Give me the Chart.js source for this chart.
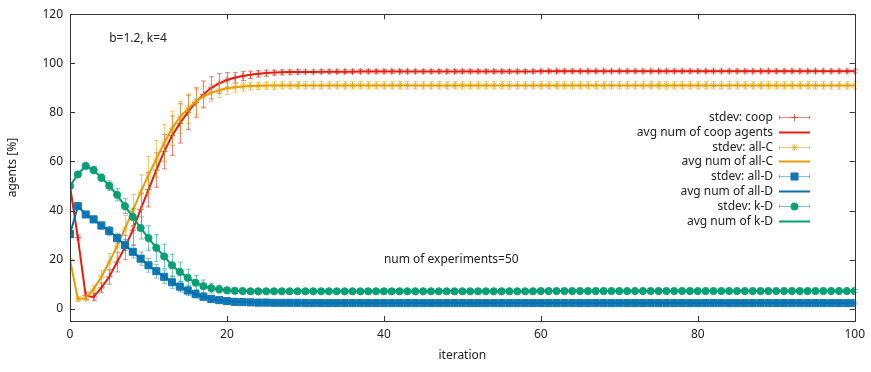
<!DOCTYPE html>
<html>
<head>
<meta charset="utf-8">
<script src="https://cdn.jsdelivr.net/npm/chart.js@4.4.0/dist/chart.umd.min.js"></script>
<style>
  html, body { margin: 0; padding: 0; background: #fff; }
  #wrap { width: 871px; height: 372px; position: relative; }
</style>
</head>
<body>
<div id="wrap"><canvas id="agents_chart"></canvas></div>
<script>
// iteration numbers on the x axis
const iterations = Array.from({ length: 101 }, (_, i) => i);
const xTicks = [0, 20, 40, 60, 80, 100];
const yTicks = [0, 20, 40, 60, 80, 100, 120];

// average number of agents [%]
const coopAvg = [
  50, 29, 5.3, 4.8, 8.5, 13, 19, 25, 32, 40.5,
  48.5, 56.5, 64, 70.5, 75.5, 80, 84, 87.3, 90, 91.8,
  93.2, 94.1, 94.8, 95.3, 95.7, 96, 96.2, 96.3, 96.4, 96.5,
  96.5, 96.5, 96.6, 96.6, 96.6, 96.6, 96.6, 96.7, 96.7, 96.7,
  96.7, 96.7, 96.7, 96.7, 96.7, 96.7, 96.7, 96.7, 96.7, 96.7,
  96.7, 96.7, 96.7, 96.7, 96.7, 96.7, 96.7, 96.7, 96.7, 96.7,
  96.8, 96.8, 96.8, 96.8, 96.8, 96.8, 96.8, 96.8, 96.8, 96.8,
  96.8, 96.8, 96.8, 96.8, 96.8, 96.8, 96.8, 96.8, 96.8, 96.8,
  96.8, 96.8, 96.8, 96.8, 96.8, 96.8, 96.8, 96.8, 96.8, 96.8,
  96.8, 96.8, 96.8, 96.8, 96.8, 96.8, 96.8, 96.8, 96.8, 96.8,
  96.8
];
const allCAvg = [
  20, 4, 4.3, 8, 13, 19, 25.5, 32.5, 40, 47.5,
  54.5, 61, 67.5, 73.5, 78, 81.5, 84.3, 86.5, 88, 89,
  89.8, 90.2, 90.5, 90.7, 90.8, 90.9, 90.9, 91, 91, 91,
  91, 91, 91, 91, 91, 91, 91, 91, 91, 91,
  91, 91, 91, 91, 91, 91, 91, 91, 91, 91,
  91, 91, 91, 91, 91, 91, 91, 91, 91, 91,
  91, 91, 91, 91, 91, 91, 91, 91, 91, 91,
  91, 91, 91, 91, 91, 91, 91, 91, 91, 91,
  91, 91, 91, 91, 91, 91, 91, 91, 91, 91,
  91, 91, 91, 91, 91, 91, 91, 91, 91, 91,
  91
];
const allDAvg = [
  30.4, 41.8, 38.4, 36.4, 33.9, 31.7, 28.8, 26, 23.2, 20.4,
  17.7, 15.3, 13, 10.8, 9, 7.4, 6, 4.9, 4, 3.5,
  3.1, 2.8, 2.7, 2.6, 2.5, 2.5, 2.4, 2.4, 2.4, 2.4,
  2.3, 2.3, 2.3, 2.3, 2.3, 2.3, 2.3, 2.3, 2.3, 2.3,
  2.3, 2.3, 2.3, 2.3, 2.3, 2.3, 2.3, 2.3, 2.3, 2.3,
  2.3, 2.3, 2.3, 2.3, 2.3, 2.3, 2.3, 2.3, 2.3, 2.3,
  2.3, 2.3, 2.3, 2.3, 2.3, 2.3, 2.3, 2.3, 2.3, 2.3,
  2.3, 2.3, 2.3, 2.3, 2.3, 2.3, 2.3, 2.3, 2.3, 2.3,
  2.3, 2.3, 2.3, 2.3, 2.3, 2.3, 2.3, 2.3, 2.3, 2.3,
  2.3, 2.3, 2.3, 2.3, 2.3, 2.3, 2.3, 2.3, 2.3, 2.3,
  2.3
];
const kDAvg = [
  50, 54.7, 58.2, 56.5, 53.4, 50.1, 46.4, 41.8, 37.4, 32.9,
  28.8, 24.8, 21.3, 17.7, 15, 12.6, 10.6, 9.2, 8.4, 7.9,
  7.5, 7.3, 7.2, 7.1, 7.1, 7.1, 7.1, 7.1, 7.1, 7.1,
  7.1, 7.1, 7.1, 7.1, 7.1, 7.1, 7.1, 7.1, 7.1, 7.1,
  7.1, 7.1, 7.1, 7.1, 7.1, 7.1, 7.1, 7.1, 7.1, 7.1,
  7.1, 7.1, 7.1, 7.1, 7.1, 7.1, 7.1, 7.1, 7.1, 7.1,
  7.2, 7.2, 7.2, 7.2, 7.2, 7.2, 7.2, 7.2, 7.2, 7.2,
  7.2, 7.2, 7.2, 7.2, 7.2, 7.2, 7.2, 7.2, 7.2, 7.2,
  7.2, 7.2, 7.2, 7.2, 7.2, 7.2, 7.2, 7.2, 7.2, 7.2,
  7.2, 7.2, 7.2, 7.2, 7.2, 7.2, 7.2, 7.2, 7.2, 7.2,
  7.2
];

// standard deviation over the experiments
const coopStdev = [
  0, 1, 1.5, 1.5, 2, 3, 4, 5, 6, 6.5,
  7, 7, 7, 8, 8, 7, 6, 5.5, 4.5, 4,
  3, 2.2, 1.8, 1.5, 1.3, 1.2, 1, 1, 0.9, 0.9,
  0.8, 0.8, 0.8, 0.8, 0.8, 0.8, 0.8, 0.8, 0.8, 0.8,
  0.8, 0.8, 0.8, 0.8, 0.8, 0.8, 0.8, 0.8, 0.8, 0.8,
  0.8, 0.8, 0.8, 0.8, 0.8, 0.8, 0.8, 0.8, 0.8, 0.8,
  0.8, 0.8, 0.8, 0.8, 0.8, 0.8, 0.8, 0.8, 0.8, 0.8,
  0.8, 0.8, 0.8, 0.8, 0.8, 0.8, 0.8, 0.8, 0.8, 0.8,
  0.8, 0.8, 0.8, 0.8, 0.8, 0.8, 0.8, 0.8, 0.8, 0.8,
  0.8, 0.8, 0.8, 0.8, 0.8, 0.8, 0.8, 0.8, 0.8, 0.8,
  0.8
];
const allCStdev = [
  0, 1, 1, 1.5, 2.5, 3.5, 4.5, 5.5, 6.5, 7,
  7.5, 7.5, 7.5, 7, 6.5, 6, 5, 4.2, 3.5, 3,
  2.5, 2, 1.8, 1.6, 1.5, 1.5, 1.5, 1.5, 1.5, 1.5,
  1.5, 1.5, 1.5, 1.5, 1.5, 1.5, 1.5, 1.5, 1.5, 1.5,
  1.5, 1.5, 1.5, 1.5, 1.5, 1.5, 1.5, 1.5, 1.5, 1.5,
  1.5, 1.5, 1.5, 1.5, 1.5, 1.5, 1.5, 1.5, 1.5, 1.5,
  1.5, 1.5, 1.5, 1.5, 1.5, 1.5, 1.5, 1.5, 1.5, 1.5,
  1.5, 1.5, 1.5, 1.5, 1.5, 1.5, 1.5, 1.5, 1.5, 1.5,
  1.5, 1.5, 1.5, 1.5, 1.5, 1.5, 1.5, 1.5, 1.5, 1.5,
  1.5, 1.5, 1.5, 1.5, 1.5, 1.5, 1.5, 1.5, 1.5, 1.5,
  1.5
];
const allDStdev = [
  0, 1, 1, 1.2, 1.5, 1.8, 2, 2.2, 2.5, 2.7,
  2.8, 2.8, 2.7, 2.5, 2.2, 2, 1.7, 1.4, 1.1, 0.9,
  0.7, 0.6, 0.5, 0.5, 0.5, 0.5, 0.5, 0.5, 0.5, 0.5,
  0.4, 0.4, 0.4, 0.4, 0.4, 0.4, 0.4, 0.4, 0.4, 0.4,
  0.4, 0.4, 0.4, 0.4, 0.4, 0.4, 0.4, 0.4, 0.4, 0.4,
  0.4, 0.4, 0.4, 0.4, 0.4, 0.4, 0.4, 0.4, 0.4, 0.4,
  0.4, 0.4, 0.4, 0.4, 0.4, 0.4, 0.4, 0.4, 0.4, 0.4,
  0.4, 0.4, 0.4, 0.4, 0.4, 0.4, 0.4, 0.4, 0.4, 0.4,
  0.4, 0.4, 0.4, 0.4, 0.4, 0.4, 0.4, 0.4, 0.4, 0.4,
  0.4, 0.4, 0.4, 0.4, 0.4, 0.4, 0.4, 0.4, 0.4, 0.4,
  0.4
];
const kDStdev = [
  0, 1, 1, 1.5, 1.5, 2, 2.5, 3, 3.5, 4.5,
  5, 5.5, 5, 4.5, 4, 3.5, 3, 2.5, 2, 1.5,
  1.2, 1, 0.8, 0.8, 0.7, 0.7, 0.7, 0.6, 0.6, 0.6,
  0.6, 0.6, 0.6, 0.6, 0.6, 0.6, 0.6, 0.6, 0.6, 0.6,
  0.6, 0.6, 0.6, 0.6, 0.6, 0.6, 0.6, 0.6, 0.6, 0.6,
  0.6, 0.6, 0.6, 0.6, 0.6, 0.6, 0.6, 0.6, 0.6, 0.6,
  0.6, 0.6, 0.6, 0.6, 0.6, 0.6, 0.6, 0.6, 0.6, 0.6,
  0.6, 0.6, 0.6, 0.6, 0.6, 0.6, 0.6, 0.6, 0.6, 0.6,
  0.6, 0.6, 0.6, 0.6, 0.6, 0.6, 0.6, 0.6, 0.6, 0.6,
  0.6, 0.6, 0.6, 0.6, 0.6, 0.6, 0.6, 0.6, 0.6, 0.6,
  0.6
];

const FONT = { family: '"Noto Sans", "DejaVu Sans", sans-serif', size: 12 };
const TEXT = '#222';

function stdevSet(label, avg, sd, line, bar, marker, style, radius) {
  return {
    label: label, data: avg, stdev: sd, barColor: bar,
    borderColor: line, borderWidth: 1, showLine: true,
    pointStyle: style, pointRadius: radius, pointBorderWidth: 1,
    pointBackgroundColor: marker, pointBorderColor: marker
  };
}
function avgSet(label, avg, color) {
  return { label: label, data: avg, borderColor: color, borderWidth: 2, pointRadius: 0 };
}

const datasets = [
  stdevSet('stdev: coop', coopAvg, coopStdev, 'rgba(229,30,16,0.45)', 'rgba(229,30,16,0.55)', 'rgba(229,30,16,0.7)', 'cross', 3.5),
  avgSet('avg num of coop agents', coopAvg, '#e51e10'),
  stdevSet('stdev: all-C', allCAvg, allCStdev, 'rgba(230,159,0,0.45)', 'rgba(230,159,0,0.55)', 'rgba(230,159,0,0.6)', 'star', 3.5),
  avgSet('avg num of all-C', allCAvg, '#e69f00'),
  stdevSet('stdev: all-D', allDAvg, allDStdev, 'rgba(0,114,178,0.4)', 'rgba(0,114,178,0.45)', '#1278b6', 'rect', 5),
  avgSet('avg num of all-D', allDAvg, '#0072b2'),
  stdevSet('stdev: k-D', kDAvg, kDStdev, 'rgba(0,158,115,0.45)', 'rgba(0,158,115,0.55)', '#0aa178', 'circle', 3.6),
  avgSet('avg num of k-D', kDAvg, '#009e73')
];
// later series lie on top, like in the original plot
datasets.forEach((d, i) => { d.order = datasets.length - i; });

const errorBars = {
  id: 'errorBars',
  beforeDatasetDraw(chart, args) {
    const ds = chart.data.datasets[args.index];
    if (!ds.stdev) return;
    const xs = chart.scales.x, ys = chart.scales.y, ctx = chart.ctx;
    ctx.save();
    ctx.strokeStyle = ds.barColor;
    ctx.lineWidth = 1;
    ds.data.forEach((v, i) => {
      const s = ds.stdev[i];
      if (!s) return;
      const px = Math.round(xs.getPixelForValue(iterations[i])) + 0.5;
      const top = ys.getPixelForValue(v + s), bot = ys.getPixelForValue(v - s);
      ctx.beginPath();
      ctx.moveTo(px, top); ctx.lineTo(px, bot);
      ctx.moveTo(px - 2.5, top); ctx.lineTo(px + 2.5, top);
      ctx.moveTo(px - 2.5, bot); ctx.lineTo(px + 2.5, bot);
      ctx.stroke();
    });
    ctx.restore();
  }
};

// border box with inward ticks on all four sides
const frame = {
  id: 'frame',
  afterDatasetsDraw(chart) {
    const { ctx, chartArea: a } = chart;
    const xs = chart.scales.x, ys = chart.scales.y;
    ctx.save();
    ctx.strokeStyle = '#333';
    ctx.lineWidth = 1;
    ctx.strokeRect(Math.round(a.left) + 0.5, Math.round(a.top) + 0.5,
      Math.round(a.right - a.left), Math.round(a.bottom - a.top));
    ctx.beginPath();
    xTicks.forEach(v => {
      const px = Math.round(xs.getPixelForValue(v)) + 0.5;
      ctx.moveTo(px, a.bottom); ctx.lineTo(px, a.bottom - 5);
      ctx.moveTo(px, a.top); ctx.lineTo(px, a.top + 5);
    });
    yTicks.forEach(v => {
      const py = Math.round(ys.getPixelForValue(v)) + 0.5;
      ctx.moveTo(a.left, py); ctx.lineTo(a.left + 5, py);
      ctx.moveTo(a.right, py); ctx.lineTo(a.right - 5, py);
    });
    ctx.stroke();
    ctx.restore();
  }
};

// gnuplot style key: text right aligned, sample on the right
const key = {
  id: 'key',
  afterDraw(chart) {
    const ctx = chart.ctx;
    const textRight = 773, x0 = 779, x1 = 810, rowTop = 117, rowStep = 14.8;
    ctx.save();
    ctx.font = '12px ' + FONT.family;
    ctx.textAlign = 'right';
    ctx.textBaseline = 'middle';
    chart.data.datasets.forEach((ds, i) => {
      const y = Math.round(rowTop + i * rowStep) + 0.5;
      ctx.fillStyle = TEXT;
      ctx.fillText(ds.label, textRight, y);
      ctx.lineWidth = ds.borderWidth;
      ctx.strokeStyle = ds.stdev ? ds.barColor : ds.borderColor;
      ctx.beginPath();
      ctx.moveTo(x0, y); ctx.lineTo(x1, y);
      if (ds.stdev) {
        ctx.moveTo(x0 + 0.5, y - 2); ctx.lineTo(x0 + 0.5, y + 2);
        ctx.moveTo(x1 - 0.5, y - 2); ctx.lineTo(x1 - 0.5, y + 2);
      }
      ctx.stroke();
      if (ds.stdev) {
        ctx.fillStyle = ds.pointBackgroundColor;
        ctx.strokeStyle = ds.pointBorderColor;
        ctx.lineWidth = ds.pointBorderWidth;
        Chart.helpers.drawPoint(ctx, {
          pointStyle: ds.pointStyle, radius: ds.pointRadius, rotation: 0,
          borderWidth: ds.pointBorderWidth
        }, (x0 + x1) / 2, y);
      }
    });
    ctx.restore();
  }
};

const notes = {
  id: 'notes',
  afterDraw(chart) {
    const ctx = chart.ctx, xs = chart.scales.x, ys = chart.scales.y;
    ctx.save();
    ctx.font = '12px ' + FONT.family;
    ctx.fillStyle = TEXT;
    ctx.textAlign = 'left';
    ctx.textBaseline = 'middle';
    ctx.fillText('b=1.2, k=4', xs.getPixelForValue(5), ys.getPixelForValue(110));
    ctx.fillText('num of experiments=50', xs.getPixelForValue(40), ys.getPixelForValue(20));
    ctx.restore();
  }
};

const ctx1 = document.getElementById('agents_chart');

const myChart1 = new Chart(ctx1, {
  type: 'line',
  data: { labels: iterations, datasets: datasets },
  options: {
    responsive: true,
    maintainAspectRatio: false,
    animation: false,
    layout: { padding: { top: 8, right: 15, left: 0, bottom: 0 } },
    elements: { line: { tension: 0 } },
    plugins: { legend: { display: false }, tooltip: { enabled: false } },
    scales: {
      x: {
        type: 'linear', min: 0, max: 100,
        grid: { display: false, drawTicks: false },
        border: { display: false },
        afterBuildTicks: s => { s.ticks = xTicks.map(v => ({ value: v })); },
        afterFit: s => { s.height = 51; },
        ticks: { padding: 6, maxRotation: 0, font: FONT, color: TEXT },
        title: { display: true, text: 'iteration', padding: { top: 4, bottom: 9 }, font: FONT, color: TEXT }
      },
      y: {
        min: -5, max: 120,
        grid: { display: false, drawTicks: false },
        border: { display: false },
        afterBuildTicks: s => { s.ticks = yTicks.map(v => ({ value: v })); },
        afterFit: s => { s.width = 70; },
        ticks: { padding: 7, font: FONT, color: TEXT },
        title: { display: true, text: 'agents [%]', padding: { top: 5, bottom: 0 }, font: FONT, color: TEXT }
      }
    }
  },
  plugins: [errorBars, frame, key, notes]
});
</script>
</body>
</html>
